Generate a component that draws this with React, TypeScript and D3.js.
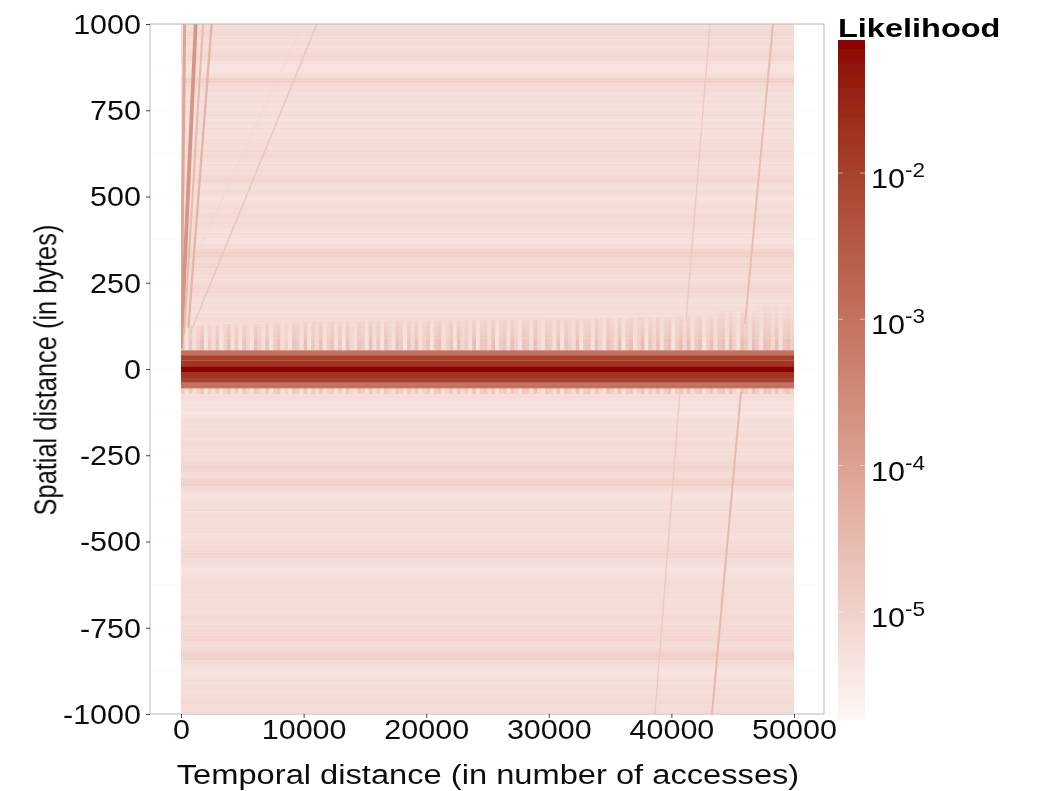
import { useEffect, useRef } from "react";
import * as d3 from "d3";

const width = 1039;
const height = 791;
const panel = { left: 150, right: 824, top: 24, bottom: 714 };
const stretch = 1.13;

const xTicks = [0, 10000, 20000, 30000, 40000, 50000];
const yTicks = [-1000, -750, -500, -250, 0, 250, 500, 750, 1000];
const legendExponents = [-2, -3, -4, -5];
const legendDomain = [-5.74, -1.09];

// log10 likelihood per 8 byte row, from +1000 down to +64
const upperRows = [
  -5.2, -5.25, -5.2, -5.12, -5.12, -5.2, -5.25, -5.2, -5.25, -5.2,
  -5.2, -5.17, -5.08, -5.12, -5.27, -5.35, -5.3, -5.33, -5.27, -5.22,
  -4.97, -4.95, -5.12, -5.22, -5.2, -5.25, -5.2, -5.27, -5.2, -5.27,
  -5.25, -5.3, -5.25, -5.2, -5.27, -5.3, -5.25, -5.3, -5.2, -5.27,
  -5.25, -5.3, -5.22, -5.18, -5.22, -5.25, -5.12, -5.15, -5.12, -5.22,
  -5.27, -5.22, -5.27, -5.18, -5.22, -5.15, -5.1, -5.08, -5.18, -5.27,
  -5.22, -5.18, -5.25, -5.33, -5.3, -5.27, -5.22, -5.18, -5.22, -5.18,
  -5.15, -5.18, -5.15, -5.18, -5.22, -5.27, -5.22, -5.27, -5.3, -5.33,
  -5.22, -5.18, -5.1, -4.98, -4.96, -5.1, -5.18, -5.07, -5.05, -5.15,
  -5.18, -5.22, -5.18, -5.22, -5.18, -5.13, -5.08, -5.12, -5.18, -5.22,
  -5.27, -5.22, -5.27, -5.22, -5.27, -5.22, -5.27, -5.22, -5.18, -5.22,
  -5.18, -5.22, -5.27, -5.22, -5.27, -5.3, -5.27, -5.22,
];

// log10 likelihood per 8 byte row, from -56 down to -992
const lowerRows = [
  -5.22, -5.27, -5.27, -5.22, -5.27, -5.3, -5.27, -5.3, -5.33, -5.38,
  -5.3, -5.27, -5.22, -5.27, -5.22, -5.27, -5.22, -5.18, -5.22, -5.18,
  -5.15, -5.18, -5.22, -5.18, -5.22, -5.18, -5.18, -5.12, -5.07, -5.07,
  -5.12, -5.18, -5.22, -5.07, -4.98, -4.96, -5.1, -5.22, -5.3, -5.33,
  -5.3, -5.27, -5.22, -5.27, -5.22, -5.27, -5.22, -5.18, -5.22, -5.18,
  -5.22, -5.18, -5.22, -5.27, -5.3, -5.27, -5.18, -5.22, -5.18, -5.15,
  -5.07, -5.12, -5.18, -5.22, -5.27, -5.3, -5.33, -5.3, -5.27, -5.22,
  -5.18, -5.22, -5.18, -5.22, -5.18, -5.22, -5.18, -5.22, -5.18, -5.22,
  -5.18, -5.22, -5.18, -5.15, -5.18, -5.22, -5.18, -5.22, -5.15, -5.12,
  -5.07, -5.12, -5.18, -5.22, -5.18, -5.12, -4.98, -4.96, -5.02, -5.18,
  -5.22, -5.27, -5.3, -5.33, -5.3, -5.27, -5.22, -5.27, -5.22, -5.18,
  -5.22, -5.18, -5.22, -5.18, -5.15, -5.18, -5.22, -5.18,
];

// the dark band round zero
const coreEdges = [54, 40, 25, 8, -11, -26, -40, -56];
const coreRows = [-3.0, -2.0, -1.75, -1.09, -1.75, -2.0, -3.0];

// comb of short repeats just outside the band, one value per column
const combRows = [
  -4.6, -5.4, -4.5, -5.3, -4.8, -4.4, -5.4, -4.7, -5.2, -4.5, -5.4, -4.9, -4.4, -5.3, -4.6, -5.4,
  -4.5, -5.0, -5.4, -4.4, -4.8, -5.3, -4.5, -5.4, -4.7, -4.4, -5.3, -4.9, -5.4, -4.5, -4.7, -5.3,
  -4.4, -5.4, -4.6, -5.1, -4.4, -5.4, -4.8, -4.5, -5.3, -4.6, -5.4, -4.4, -5.0, -5.3, -4.5, -4.7,
  -5.4, -4.4, -5.2, -4.6, -5.4, -4.5, -4.9, -5.3, -4.4, -4.7, -5.4, -4.5, -5.1, -4.4, -5.3, -4.8,
  -4.5, -5.4, -4.6, -4.4, -5.3, -4.9, -4.5, -5.4, -4.4, -5.0, -4.7, -5.3, -4.4, -5.4, -4.6, -4.5,
  -5.2, -4.4, -5.4, -4.7, -4.5, -5.3, -4.4, -4.9, -5.4, -4.5, -4.6, -5.3, -4.3, -5.0, -5.4, -4.5,
  -4.7, -5.3, -4.4, -5.4, -4.5, -4.8, -5.2, -4.3, -5.4, -4.6, -4.5, -5.3, -4.4, -4.9, -5.4, -4.4,
  -4.7, -5.2, -4.3, -5.4, -4.6, -4.4, -5.3, -4.8, -4.3, -5.4, -4.5, -5.0, -4.4, -5.3, -4.6, -4.3,
  -5.4, -4.7, -4.4, -5.1, -4.3, -5.3, -4.6, -4.4, -5.4, -4.8, -4.3, -5.2, -4.5, -4.4, -5.3, -4.3,
  -4.9, -5.4, -4.4, -4.6, -5.2, -4.3, -4.7, -5.3, -4.4, -4.5, -5.1, -4.3, -5.3, -4.6, -4.4, -4.8,
];

// how far up the comb reaches in bytes, read along the x axis
const combReach = [126, 130, 132, 136, 138, 140, 140, 142, 142, 144, 146, 150, 156, 168, 190];
const combNear = 88;
const combFloor = -72;
const backgroundLog = -5.2;

// diagonal ridges: temporal and spatial distance at both ends, and log10 likelihood
const ridgeStartT = [0, 0, 250, 600, 700, 1500, 41190, 46000, 40700, 45680];
const ridgeStartS = [60, 60, 100, 120, 100, 350, 140, 130, -65, -65];
const ridgeEndT = [300, 1200, 1800, 2500, 11090, 9950, 43150, 48290, 38660, 43310];
const ridgeEndS = [1000, 1000, 1000, 1000, 1000, 1000, 1000, 1000, -1000, -1000];
const ridgeLogs = [-4.1, -3.75, -4.5, -4.4, -4.75, -5.05, -4.8, -4.55, -4.8, -4.5];

const x = d3.scaleLinear().domain([0, 50000]).range([181, 794]);
const y = d3.scaleLinear().domain([-1000, 1000]).range([panel.bottom, panel.top]);
const legendY = d3.scaleLinear().domain(legendDomain).range([720, 40]);
const color = d3
  .scaleLinear<string>()
  .domain([legendDomain[0], -5, legendDomain[1]])
  .range(["#fdf7f5", "#f1d2cb", "#8b0000"])
  .interpolate(d3.interpolateLab);

const combX = d3.scaleBand<number>().domain(d3.range(combRows.length)).range([0, 50000]);
const ridgeWidth = d3.scaleLinear().domain([-5.05, -3.75]).range([0.8, 3.8]);
const fontFamily = "'Liberation Sans', Arial, sans-serif";

export default function App() {
  const xAxisRef = useRef<SVGGElement>(null);
  const yAxisRef = useRef<SVGGElement>(null);

  useEffect(() => {
    const styleAxis = (g: d3.Selection<SVGGElement, unknown, null, undefined>) => {
      g.select(".domain").remove();
      g.selectAll("line").attr("stroke", "#444").attr("stroke-width", 1);
      g.selectAll("text")
        .attr("fill", "#111")
        .style("font-family", fontFamily)
        .style("font-size", "27px");
    };

    const xAxis = d3.select(xAxisRef.current!);
    xAxis.call(d3.axisBottom(x).tickValues(xTicks).tickSize(4).tickFormat((v) => String(v)));
    styleAxis(xAxis);
    xAxis
      .selectAll<SVGTextElement, number>("text")
      .attr("y", 0)
      .attr("dy", 0)
      .attr("transform", `translate(0, 25) scale(${stretch}, 1)`);

    const yAxis = d3.select(yAxisRef.current!);
    yAxis.call(d3.axisLeft(y).tickValues(yTicks).tickSize(4).tickFormat((v) => String(v)));
    styleAxis(yAxis);
    yAxis
      .selectAll<SVGTextElement, number>("text")
      .attr("x", 0)
      .attr("dy", "0.35em")
      .attr("transform", `translate(-9, 0) scale(${stretch}, 1)`);
  }, []);

  const gridTicks = d3.range(-1000, 1001, 125);
  const columns = combRows.map((level, i) => ({
    near: level * 0.7 + backgroundLog * 0.3,
    far: level * 0.55 + backgroundLog * 0.45,
    low: level * 0.6 + backgroundLog * 0.4,
    i,
    reach: combReach[Math.floor((i / combRows.length) * combReach.length)],
  }));

  return (
    <svg
      width={width}
      height={height}
      viewBox={`0 0 ${width} ${height}`}
      style={{ position: "absolute", left: 0, top: 0, background: "#fff" }}
    >
      <defs>
        <clipPath id="heat-clip">
          <rect x={x(0)} y={panel.top} width={x(50000) - x(0)} height={panel.bottom - panel.top} />
        </clipPath>
        <linearGradient id="legend-fill" x1="0" y1="1" x2="0" y2="0">
          {d3.range(0, 1.001, 0.05).map((t) => (
            <stop
              key={t}
              offset={t}
              stopColor={color(legendDomain[0] + t * (legendDomain[1] - legendDomain[0]))}
            />
          ))}
        </linearGradient>
        <linearGradient id="comb-fade" gradientUnits="userSpaceOnUse" x1="0" x2="0" y1={y(190)} y2={y(combNear)}>
          <stop offset="0" stopColor="#fff" stopOpacity={0.1} />
          <stop offset="0.55" stopColor="#fff" stopOpacity={0.5} />
          <stop offset="1" stopColor="#fff" stopOpacity={1} />
        </linearGradient>
        <mask id="comb-mask" maskUnits="userSpaceOnUse" x="0" y="0" width={width} height={height}>
          <rect x={0} y={y(200)} width={width} height={y(combNear) - y(200)} fill="url(#comb-fade)" />
        </mask>
        <filter id="soft" x="0" y="0" width="100%" height="100%">
          <feGaussianBlur stdDeviation="0.45" />
        </filter>
      </defs>

      <g filter="url(#soft)">
        {gridTicks.map((v) => (
          <line key={v} x1={panel.left} x2={panel.right} y1={y(v)} y2={y(v)} stroke="#fafafa" />
        ))}

        <g clipPath="url(#heat-clip)">
          {upperRows.map((v, i) => (
            <rect
              key={`u${i}`}
              x={x(0)}
              y={y(1004 - i * 8)}
              width={x(50000) - x(0)}
              height={y(0) - y(8) + 0.3}
              fill={color(v)}
            />
          ))}
          {lowerRows.map((v, i) => (
            <rect
              key={`l${i}`}
              x={x(0)}
              y={y(-52 - i * 8)}
              width={x(50000) - x(0)}
              height={y(0) - y(8) + 0.3}
              fill={color(v)}
            />
          ))}
          {/* rows between the upper list and the band */}
          <rect x={x(0)} y={y(68)} width={x(50000) - x(0)} height={y(0) - y(68)} fill={color(backgroundLog)} />

          <g mask="url(#comb-mask)">
            {columns.map((c) => (
              <rect
                key={c.i}
                x={x(combX(c.i)!)}
                y={y(c.reach)}
                width={x(combX.bandwidth()) - x(0)}
                height={y(combNear) - y(c.reach)}
                fill={color(c.far)}
              />
            ))}
          </g>
          {columns.map((c) => (
            <g key={c.i}>
              <rect
                x={x(combX(c.i)!)}
                y={y(combNear)}
                width={x(combX.bandwidth()) - x(0)}
                height={y(50) - y(combNear)}
                fill={color(c.near)}
              />
              <rect
                x={x(combX(c.i)!)}
                y={y(-50)}
                width={x(combX.bandwidth()) - x(0)}
                height={y(combFloor) - y(-50)}
                fill={color(c.low)}
              />
            </g>
          ))}

          {ridgeLogs.map((v, i) => (
            <line
              key={i}
              x1={x(ridgeStartT[i])}
              y1={y(ridgeStartS[i])}
              x2={x(ridgeEndT[i])}
              y2={y(ridgeEndS[i])}
              stroke={color(v)}
              strokeWidth={ridgeWidth(v)}
            />
          ))}

          {coreRows.map((v, i) => (
            <rect
              key={`c${i}`}
              x={x(0)}
              y={y(coreEdges[i])}
              width={x(50000) - x(0)}
              height={y(coreEdges[i + 1]) - y(coreEdges[i])}
              fill={color(v)}
            />
          ))}
        </g>

        <rect
          x={panel.left}
          y={panel.top}
          width={panel.right - panel.left}
          height={panel.bottom - panel.top}
          fill="none"
          stroke="#b8b8b8"
        />

        <rect x={838} y={legendY(legendDomain[1])} width={27} height={680} fill="url(#legend-fill)" />
        {legendExponents.map((e) => (
          <g key={e}>
            <line x1={838} x2={843} y1={legendY(e)} y2={legendY(e)} stroke="#fff" strokeOpacity={0.5} />
            <line x1={860} x2={865} y1={legendY(e)} y2={legendY(e)} stroke="#fff" strokeOpacity={0.5} />
            <text
              transform={`translate(871, ${legendY(e) + 15}) scale(${stretch}, 1)`}
              fontFamily={fontFamily}
              fontSize={27}
              fill="#111"
            >
              10
              <tspan dy={-11} fontSize={20}>
                {e}
              </tspan>
            </text>
          </g>
        ))}

        <g ref={xAxisRef} transform={`translate(0, ${panel.bottom})`} />
        <g ref={yAxisRef} transform={`translate(${panel.left}, 0)`} />

        <text
          transform={`translate(488, 784) scale(1.21, 1)`}
          textAnchor="middle"
          fontFamily={fontFamily}
          fontSize={27}
          fill="#111"
        >
          Temporal distance (in number of accesses)
        </text>
        <text
          transform={`translate(56, 370) scale(1.22, 1) rotate(-90)`}
          textAnchor="middle"
          fontFamily={fontFamily}
          fontSize={25.4}
          fill="#111"
        >
          Spatial distance (in bytes)
        </text>
        <text
          transform={`translate(838, 37) scale(1.3, 1)`}
          fontFamily={fontFamily}
          fontSize={25}
          fontWeight="bold"
          fill="#000"
        >
          Likelihood
        </text>
      </g>
    </svg>
  );
}
